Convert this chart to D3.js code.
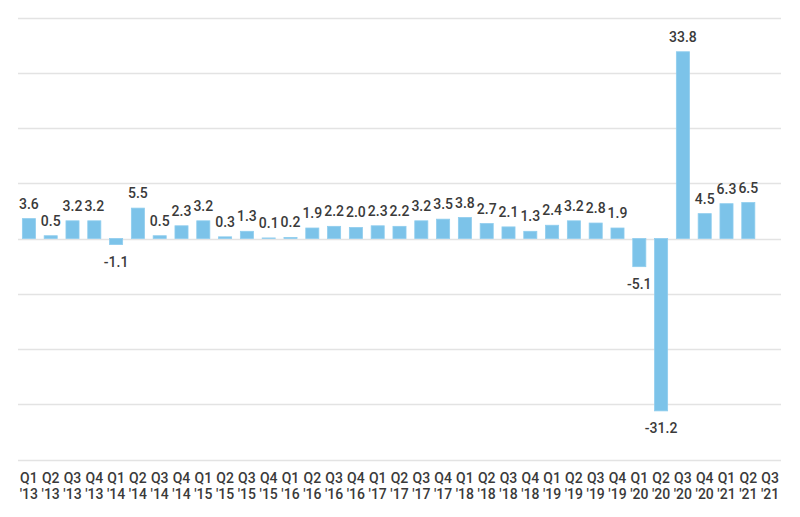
<!DOCTYPE html>
<html><head><meta charset="utf-8">
<script src="https://cdn.jsdelivr.net/npm/d3@7"></script>
<style>body{margin:0;background:#fff}svg{display:block}text{font-family:Roboto,"Noto Sans",sans-serif}</style>
</head><body>
<svg id="chart" width="800" height="517"></svg>
<script>
const quarters = ["Q1","Q2","Q3","Q4","Q1","Q2","Q3","Q4","Q1","Q2","Q3","Q4","Q1","Q2","Q3","Q4","Q1","Q2","Q3","Q4","Q1","Q2","Q3","Q4","Q1","Q2","Q3","Q4","Q1","Q2","Q3","Q4","Q1","Q2","Q3"];
const years = ["'13","'13","'13","'13","'14","'14","'14","'14","'15","'15","'15","'15","'16","'16","'16","'16","'17","'17","'17","'17","'18","'18","'18","'18","'19","'19","'19","'19","'20","'20","'20","'20","'21","'21","'21"];
const values = [3.6,0.5,3.2,3.2,-1.1,5.5,0.5,2.3,3.2,0.3,1.3,0.1,0.2,1.9,2.2,2.0,2.3,2.2,3.2,3.5,3.8,2.7,2.1,1.3,2.4,3.2,2.8,1.9,-5.1,-31.2,33.8,4.5,6.3,6.5,null];
const gridTicks = [-40,-30,-20,-10,0,10,20,30,40];

const svg = d3.select("#chart");
const mLeft = 18, mRight = 781, mTop = 17.5, mBottom = 459.5;
const idx = d3.range(values.length);
const x = d3.scaleBand().domain(idx).range([mLeft, mRight]).paddingInner(0.4).paddingOuter(0.2);
const y = d3.scaleLinear().domain([-40, 40]).range([mBottom, mTop]);

svg.append("g").selectAll("line").data(gridTicks).join("line")
  .attr("x1", mLeft).attr("x2", mRight)
  .attr("y1", d => Math.round(y(d)) + 0.5).attr("y2", d => Math.round(y(d)) + 0.5)
  .attr("stroke", "#e3e3e3").attr("stroke-width", 1.5);

const data = idx.filter(i => values[i] !== null);
svg.append("g").selectAll("rect").data(data).join("rect")
  .attr("x", i => x(i)).attr("width", x.bandwidth())
  .attr("y", i => y(Math.max(0, values[i])))
  .attr("height", i => Math.abs(y(values[i]) - y(0)))
  .attr("fill", "#7cc3e9").attr("stroke", "#8fcdee").attr("stroke-width", 0.8);

svg.append("g").selectAll("text").data(data).join("text")
  .attr("x", i => x(i) + x.bandwidth() / 2)
  .attr("y", i => values[i] >= 0 ? y(values[i]) - 10 : y(values[i]) + 22)
  .attr("text-anchor", "middle").attr("font-size", 14).attr("font-weight", 500)
  .attr("fill", "#3a3a3a").text(i => values[i].toFixed(1));

const xl = svg.append("g").selectAll("text").data(idx).join("text")
  .attr("text-anchor", "middle").attr("font-size", 14).attr("font-weight", 500).attr("fill", "#3a3a3a");
xl.append("tspan").attr("x", i => x(i) + x.bandwidth() / 2).attr("y", 483).text(i => quarters[i]);
xl.append("tspan").attr("x", i => x(i) + x.bandwidth() / 2).attr("y", 499).text(i => years[i]);
</script>
</body></html>
